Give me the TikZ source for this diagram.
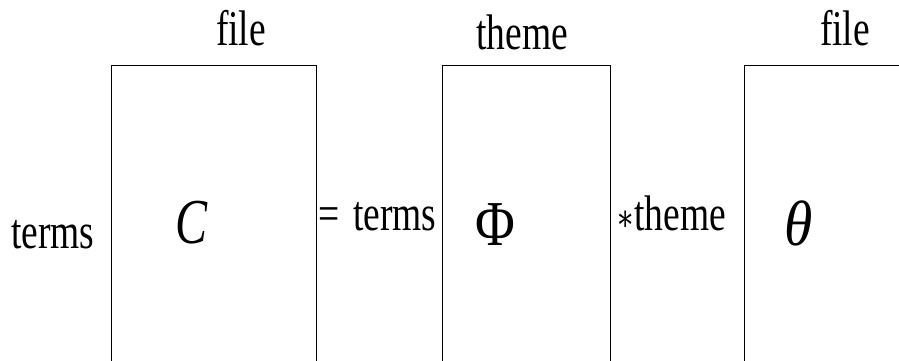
\documentclass[tikz,border=0pt]{standalone}
\usepackage{fontspec}
\setmainfont{Liberation Serif}
\newfontfamily\astfont{DejaVu Serif}
\usepackage{graphicx}
\newcommand{\condtext}[1]{\scalebox{0.75}[1]{#1}}
\tikzset{
  lbl/.style={inner sep=0pt, font=\fontsize{50}{50}\selectfont},
  sym/.style={inner sep=0pt, font=\fontsize{64}{64}\selectfont},
  boxline/.style={draw=black, line width=0.9pt}
}
\begin{document}
\begin{tikzpicture}[x=1pt,y=-1pt]
\useasboundingbox (0,0) rectangle (899,361);
% box corners
\coordinate (b1bl) at (111,361); \coordinate (b1tl) at (111,65);
\coordinate (b1tr) at (316,65);  \coordinate (b1br) at (316,361);
\coordinate (b2bl) at (442,361); \coordinate (b2tl) at (442,65);
\coordinate (b2tr) at (610,65);  \coordinate (b2br) at (610,361);
\coordinate (b3bl) at (744,361); \coordinate (b3tl) at (744,65);
\coordinate (b3tr) at (899,65);
\draw[boxline] (b1bl) -- (b1tl) -- (b1tr) -- (b1br);
\draw[boxline] (b2bl) -- (b2tl) -- (b2tr) -- (b2br);
\draw[boxline] (b3bl) -- (b3tl) -- (b3tr);
% top labels
\node[lbl, anchor=base] (f1) at (241,46) {\condtext{file}};
\node[lbl, anchor=base] (th) at (522,49) {\condtext{theme}};
\node[lbl, anchor=base] (f2) at (845,46) {\condtext{file}};
% side labels
\node[lbl, anchor=base west] (t1) at (11,248) {\condtext{terms}};
\node[lbl, anchor=base west] (eq) at (318,230) {\condtext{=\hspace{6pt} terms}};
\node[lbl, anchor=base west] (st) at (616,230) {\condtext{{\astfont\fontsize{36}{36}\selectfont ∗}theme}};
% symbols
\node[sym, anchor=base] (C) at (192,243) {\condtext{\itshape C}};
\node[sym, anchor=base] (Phi) at (495,245) {\scalebox{0.85}[1]{Φ}};
\node[sym, anchor=base] (theta) at (799,245) {\scalebox{0.9}[1]{\itshape θ}};
\end{tikzpicture}
\end{document}
